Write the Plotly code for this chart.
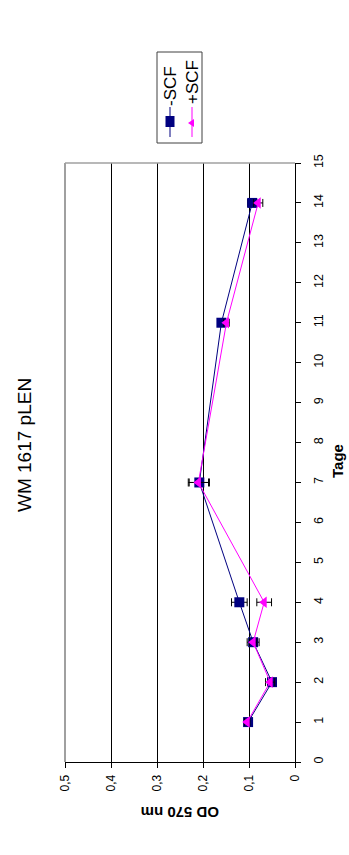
import plotly.graph_objects as go

# Measurement days and optical density (OD 570 nm)
days = [1, 2, 3, 4, 7, 11, 14]
od_minus_scf = [0.102, 0.050, 0.091, 0.121, 0.208, 0.160, 0.093]
err_minus_scf = [0.008, 0.008, 0.013, 0.017, 0.022, 0.008, 0.010]
od_plus_scf = [0.104, 0.054, 0.091, 0.067, 0.210, 0.149, 0.080]
err_plus_scf = [0.006, 0.010, 0.008, 0.016, 0.022, 0.006, 0.010]

series_names = ["-SCF", "+SCF"]
od_ticks = [0, 0.1, 0.2, 0.3, 0.4, 0.5]
od_tick_labels = ["0", "0,1", "0,2", "0,3", "0,4", "0,5"]
day_ticks = list(range(0, 16))

W, H = 349, 855
L, R, T, B = 65, 54, 163, 93
PW, PH = W - L - R, H - T - B

FONT = "Liberation Sans, Arial, sans-serif"
NAVY = "#000080"
MAGENTA = "#FF00FF"


def fx(x):
    return (x - L) / PW


def fy(y):
    return (H - B - y) / PH


fig = go.Figure()

fig.add_trace(go.Scatter(
    x=od_minus_scf, y=days, mode="lines+markers", name=series_names[0],
    line=dict(color=NAVY, width=1),
    marker=dict(symbol="square", size=10, color=NAVY),
    error_x=dict(type="data", array=err_minus_scf, color="black",
                 thickness=1, width=4),
    showlegend=False,
))
fig.add_trace(go.Scatter(
    x=od_plus_scf, y=days, mode="lines+markers", name=series_names[1],
    line=dict(color=MAGENTA, width=1),
    marker=dict(symbol="triangle-left", size=10, color=MAGENTA),
    error_x=dict(type="data", array=err_plus_scf, color="black",
                 thickness=1, width=4),
    showlegend=False,
))

shapes = [
    # grey plot-area border on the far sides
    dict(type="line", xref="paper", yref="paper", x0=0, x1=0, y0=0, y1=1,
         line=dict(color="#808080", width=1.5), layer="above"),
    dict(type="line", xref="paper", yref="paper", x0=0, x1=1, y0=1, y1=1,
         line=dict(color="#A0A0A0", width=1.5), layer="above"),
    # legend box
    dict(type="rect", xref="paper", yref="paper",
         x0=fx(157), x1=fx(202), y0=fy(143), y1=fy(52),
         line=dict(color="#404040", width=1), fillcolor="white"),
    # legend samples
    dict(type="line", xref="paper", yref="paper",
         x0=fx(170), x1=fx(170), y0=fy(137), y1=fy(107),
         line=dict(color=NAVY, width=1)),
    dict(type="rect", xref="paper", yref="paper",
         x0=fx(165.5), x1=fx(174.5), y0=fy(127), y1=fy(116),
         line=dict(width=0), fillcolor=NAVY),
    dict(type="line", xref="paper", yref="paper",
         x0=fx(192), x1=fx(192), y0=fy(137), y1=fy(107),
         line=dict(color=MAGENTA, width=1)),
    dict(type="path", xref="paper", yref="paper",
         path=f"M {fx(188)} {fy(123)} L {fx(194)} {fy(119)} L {fx(194)} {fy(127)} Z",
         line=dict(width=0), fillcolor=MAGENTA),
]

annotations = [
    dict(text="WM 1617 pLEN", xref="paper", yref="paper", x=fx(24), y=fy(445),
         showarrow=False, textangle=-90, xanchor="center", yanchor="middle",
         font=dict(family=FONT, size=19, color="black")),
    dict(text="<b>Tage</b>", xref="paper", yref="paper", x=fx(337), y=fy(461),
         showarrow=False, textangle=-90, xanchor="center", yanchor="middle",
         font=dict(family=FONT, size=15, color="black")),
    dict(text="<b>OD 570 nm</b>", xref="paper", yref="paper", x=fx(180), y=fy(813),
         showarrow=False, textangle=180, xanchor="center", yanchor="middle",
         font=dict(family=FONT, size=15, color="black")),
    dict(text=series_names[0], xref="paper", yref="paper", x=fx(170), y=fy(86),
         showarrow=False, textangle=-90, xanchor="center", yanchor="middle",
         font=dict(family=FONT, size=17, color="black")),
    dict(text=series_names[1], xref="paper", yref="paper", x=fx(192), y=fy(82),
         showarrow=False, textangle=-90, xanchor="center", yanchor="middle",
         font=dict(family=FONT, size=17, color="black")),
]

fig.update_layout(
    width=W, height=H, autosize=False,
    margin=dict(l=L, r=R, t=T, b=B, pad=0),
    paper_bgcolor="white", plot_bgcolor="white",
    font=dict(family=FONT, size=12, color="black"),
    shapes=shapes, annotations=annotations, showlegend=False,
    xaxis=dict(
        range=[0.5, 0], tickvals=od_ticks, ticktext=od_tick_labels,
        tickangle=-90, ticks="outside", ticklen=5, tickcolor="black",
        showline=True, linecolor="black", linewidth=1,
        showgrid=True, gridcolor="black", gridwidth=1, zeroline=False,
        tickfont=dict(family=FONT, size=12), ticklabelstandoff=2,
    ),
    yaxis=dict(
        range=[0, 15], tickvals=day_ticks, side="right",
        tickangle=-90, ticks="outside", ticklen=5, tickcolor="black",
        showline=True, linecolor="black", linewidth=1,
        showgrid=False, zeroline=False,
        tickfont=dict(family=FONT, size=12.5), ticklabelstandoff=7,
    ),
)

fig.write_html("out.html")
